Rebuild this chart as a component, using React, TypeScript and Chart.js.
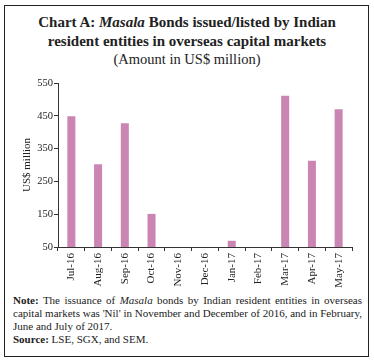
import React, { useEffect, useRef } from "react";
import { Chart, registerables } from "chart.js";

Chart.register(...registerables);

const categories = ["Jul-16", "Aug-16", "Sep-16", "Oct-16", "Nov-16", "Dec-16", "Jan-17", "Feb-17", "Mar-17", "Apr-17", "May-17"];
const amounts: (number | null)[] = [449, 302, 427, 151, null, null, 69, null, 511, 313, 470];
const yTicks = [50, 150, 250, 350, 450, 550];

const SERIF = '"Liberation Serif", "DejaVu Serif", serif';

export default function App() {
  const ref = useRef<HTMLCanvasElement | null>(null);

  useEffect(() => {
    if (!ref.current) return;
    const chart = new Chart(ref.current, {
      type: "bar",
      data: {
        labels: categories,
        datasets: [
          {
            data: amounts,
            backgroundColor: "#CA85B3",
            borderWidth: 0,
            categoryPercentage: 1,
            barPercentage: 0.3,
          },
        ],
      },
      options: {
        animation: false,
        responsive: false,
        maintainAspectRatio: false,
        layout: { padding: { top: 13, right: 22, left: 0, bottom: 0 } },
        plugins: { legend: { display: false }, tooltip: { enabled: false } },
        scales: {
          x: {
            grid: { display: true, drawOnChartArea: false, drawTicks: true, tickLength: 4, offset: true, color: "#333" },
            border: { display: true, color: "#333", width: 1 },
            ticks: {
              minRotation: 90,
              maxRotation: 90,
              autoSkip: false,
              color: "#222",
              font: { family: SERIF, size: 11 },
              padding: 2,
            },
            afterFit: (s: any) => {
              s.height = 45;
            },
          },
          y: {
            min: 50,
            max: 550,
            afterBuildTicks: (s: any) => {
              s.ticks = yTicks.map((v) => ({ value: v }));
            },
            grid: { display: true, drawOnChartArea: false, drawTicks: true, tickLength: 4, color: "#333" },
            border: { display: true, color: "#333", width: 1 },
            ticks: { color: "#222", font: { family: SERIF, size: 10.5 }, padding: 1 },
            title: {
              display: true,
              text: "US$ million",
              color: "#222",
              font: { family: SERIF, size: 11 },
              padding: { top: 21, bottom: 0 },
            },
            afterFit: (s: any) => {
              s.width = 58;
            },
          },
        },
      },
    });
    return () => chart.destroy();
  }, []);

  return (
    <div style={{ position: "absolute", left: 0, top: 0, width: 374, height: 362, background: "#fff", overflow: "hidden" }}>
      <div
        style={{
          position: "absolute",
          left: 4,
          top: 5,
          width: 365,
          height: 352,
          border: "1.5px solid #222",
          boxSizing: "border-box",
        }}
      />
      <div
        style={{
          position: "absolute",
          left: 0,
          top: 13,
          width: 374,
          textAlign: "center",
          fontFamily: SERIF,
          color: "#222",
          lineHeight: "18.5px",
        }}
      >
        <div style={{ fontWeight: "bold", fontSize: 15 }}>
          Chart A: <i>Masala</i> Bonds issued/listed by Indian
        </div>
        <div style={{ fontWeight: "bold", fontSize: 15 }}>resident entities in overseas capital markets</div>
        <div style={{ fontSize: 14.5 }}>(Amount in US$ million)</div>
      </div>
      <canvas ref={ref} width={374} height={222} style={{ position: "absolute", left: 0, top: 70, width: 374, height: 222 }} />
      <div
        style={{
          position: "absolute",
          left: 13,
          top: 294,
          width: 349,
          fontFamily: SERIF,
          fontSize: 11,
          lineHeight: "13px",
          color: "#222",
          textAlign: "justify",
        }}
      >
        <div>
          <b>Note:</b> The issuance of <i>Masala</i> bonds by Indian resident entities in overseas capital markets was 'Nil' in
          November and December of 2016, and in February, June and July of 2017.
        </div>
        <div style={{ textAlign: "left" }}>
          <b>Source:</b> LSE, SGX, and SEM.
        </div>
      </div>
    </div>
  );
}
